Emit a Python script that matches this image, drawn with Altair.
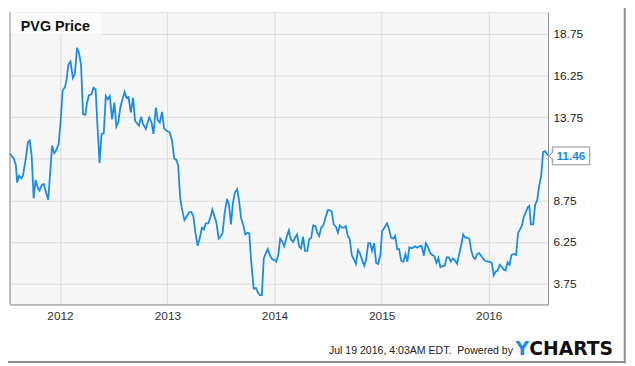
import altair as alt
import pandas as pd

# Decimal-year time stamps and PVG closing prices
years = [
    2011.533, 2011.570, 2011.588, 2011.600, 2011.618, 2011.641, 2011.655, 2011.680,
    2011.701, 2011.717, 2011.735, 2011.754, 2011.772, 2011.794, 2011.809, 2011.830,
    2011.849, 2011.871, 2011.889, 2011.908, 2011.926, 2011.945, 2011.963, 2011.987,
    2012.006, 2012.024, 2012.046, 2012.061, 2012.077, 2012.098, 2012.120, 2012.138,
    2012.159, 2012.178, 2012.196, 2012.215, 2012.236, 2012.252, 2012.270, 2012.291,
    2012.313, 2012.332, 2012.350, 2012.369, 2012.387, 2012.408, 2012.427, 2012.445,
    2012.464, 2012.485, 2012.507, 2012.525, 2012.544, 2012.562, 2012.583, 2012.602,
    2012.620, 2012.639, 2012.660, 2012.682, 2012.700, 2012.719, 2012.737, 2012.756,
    2012.774, 2012.800, 2012.832, 2012.854, 2012.872, 2012.894, 2012.912, 2012.931,
    2012.952, 2012.971, 2012.992,
    2013.023, 2013.044, 2013.066, 2013.084, 2013.102, 2013.121, 2013.139, 2013.161,
    2013.183, 2013.207, 2013.226, 2013.244, 2013.263, 2013.284, 2013.305, 2013.324,
    2013.342, 2013.360, 2013.383, 2013.401, 2013.422, 2013.441, 2013.459, 2013.480,
    2013.499, 2013.517, 2013.536, 2013.558, 2013.576, 2013.595, 2013.613, 2013.631,
    2013.653, 2013.671, 2013.689, 2013.708, 2013.729, 2013.748, 2013.766, 2013.784,
    2013.807, 2013.828, 2013.846, 2013.865, 2013.883, 2013.901, 2013.920, 2013.938,
    2013.960, 2013.982,
    2014.000, 2014.018, 2014.037, 2014.054, 2014.070, 2014.092, 2014.113, 2014.135,
    2014.153, 2014.175, 2014.194, 2014.212, 2014.231, 2014.249, 2014.267, 2014.286,
    2014.307, 2014.325, 2014.344, 2014.362, 2014.381, 2014.399, 2014.418, 2014.436,
    2014.457, 2014.476, 2014.498, 2014.516, 2014.535, 2014.553, 2014.574, 2014.593,
    2014.611, 2014.630, 2014.648, 2014.666, 2014.685, 2014.703, 2014.722, 2014.740,
    2014.761, 2014.780, 2014.798, 2014.817, 2014.839, 2014.857, 2014.876, 2014.894,
    2014.912, 2014.931, 2014.949, 2014.968, 2014.989,
    2015.005, 2015.026, 2015.051, 2015.069, 2015.088, 2015.109, 2015.127, 2015.146,
    2015.164, 2015.183, 2015.204, 2015.222, 2015.241, 2015.259, 2015.281, 2015.312,
    2015.333, 2015.351, 2015.373, 2015.395, 2015.413, 2015.434, 2015.456, 2015.475,
    2015.493, 2015.512, 2015.530, 2015.549, 2015.570, 2015.588, 2015.609, 2015.628,
    2015.646, 2015.665, 2015.683, 2015.705, 2015.726, 2015.745, 2015.761, 2015.779,
    2015.797, 2015.819, 2015.837, 2015.856, 2015.874, 2015.892, 2015.911, 2015.929,
    2015.948, 2015.969, 2015.991,
    2016.009, 2016.028, 2016.046, 2016.065, 2016.083, 2016.102, 2016.120, 2016.138,
    2016.157, 2016.175, 2016.194, 2016.212, 2016.231, 2016.255, 2016.273, 2016.292,
    2016.310, 2016.328, 2016.347, 2016.365, 2016.378, 2016.393, 2016.415, 2016.433,
    2016.452, 2016.470, 2016.489, 2016.507, 2016.526, 2016.544, 2016.553,
]

prices = [
    11.56, 11.26, 10.86, 9.82, 10.23, 10.08, 10.27, 11.26,
    12.25, 12.35, 11.46, 8.89, 9.98, 9.48, 9.34, 9.68,
    9.74, 9.19, 8.79, 10.37, 12.05, 11.59, 11.75, 12.15,
    13.53, 15.35, 15.55, 16.00, 16.89, 17.09, 16.10, 16.34,
    17.92, 17.58, 16.89, 13.93, 13.89, 14.62, 15.07, 15.11,
    15.51, 15.41, 13.14, 11.00, 12.74, 12.78, 15.02, 14.82,
    15.02, 13.63, 14.62, 13.18, 13.43, 14.32, 14.82, 15.27,
    14.91, 14.96, 14.03, 14.91, 13.53, 13.37, 13.24, 13.77,
    13.34, 13.04, 13.73, 13.43, 12.74, 14.32, 13.57, 13.43,
    14.07, 13.08, 12.94,
    12.84, 12.35, 11.26, 11.20, 10.86, 8.89, 8.20, 7.56,
    7.80, 8.04, 8.04, 7.80, 6.81, 6.02, 6.52, 7.11,
    7.01, 7.37, 7.37, 7.70, 8.20, 7.80, 7.41, 6.46,
    6.58, 6.81, 8.00, 8.83, 8.49, 7.31, 8.59, 9.22,
    9.42, 8.69, 7.70, 7.31, 6.71, 6.81, 6.77, 5.04,
    3.45, 3.49, 3.22, 3.06, 3.06, 5.27, 5.57, 5.82,
    5.43, 5.19,
    5.19, 5.07, 5.50, 6.46, 6.32, 5.99, 6.52, 6.95,
    6.42, 6.26, 6.52, 6.71, 5.99, 5.87, 6.58, 5.72,
    5.72, 6.42, 6.52, 7.25, 7.21, 6.85, 6.62, 7.11,
    7.25, 7.70, 8.16, 8.16, 8.10, 7.31, 7.17, 6.81,
    7.25, 7.11, 7.11, 7.21, 6.62, 6.42, 5.47, 5.23,
    4.94, 5.78, 5.59, 5.19, 4.83, 5.23, 6.18, 6.18,
    5.72, 6.18, 5.00, 4.94, 5.47,
    6.91, 7.11, 7.37, 7.05, 6.52, 6.46, 6.62, 5.82,
    5.82, 5.13, 5.07, 5.53, 5.07, 5.93, 5.87, 5.99,
    5.91, 5.99, 6.02, 5.43, 6.18, 5.93, 5.57, 5.47,
    5.39, 5.00, 5.29, 4.74, 4.80, 4.83, 5.33, 5.33,
    5.07, 5.27, 5.17, 4.94, 5.59, 6.12, 6.71, 6.52,
    6.52, 6.46, 5.72, 5.33, 5.23, 5.53, 5.59, 5.43,
    5.23, 5.11, 5.07,
    5.07, 5.00, 4.24, 4.48, 4.54, 4.88, 4.78, 4.60,
    4.54, 5.04, 4.88, 5.47, 5.53, 5.47, 6.77, 7.01,
    7.25, 7.80, 8.04, 8.36, 8.43, 7.31, 7.31, 8.49,
    8.75, 9.62, 10.21, 11.65, 11.71, 11.52, 11.46,
]

y_ticks = [3.75, 6.25, 8.75, 11.25, 13.75, 16.25, 18.75]
x_start, x_end = 2011.533, 2016.553
y_domain = [2.5, 20.05]
series_name = "PVG Price"
last_label = "11.46"
footer = "Jul 19 2016, 4:03AM EDT.\u00a0 Powered by"

BLUE = "#1a8ce8"
FRAME = "#8c8c8c"
GRID = "#dcdcdc"
FONT = "Liberation Sans"


def to_date(t):
    return pd.Timestamp("2012-01-01") + pd.to_timedelta((t - 2012) * 365.25, unit="D")


df = pd.DataFrame({"date": [to_date(t) for t in years], "price": prices})
last = df.tail(1).copy()
last["label"] = last_label
one = pd.DataFrame({"a": [0]})

W, H = 545, 296

x_enc = alt.X(
    "date:T",
    scale=alt.Scale(domain=[to_date(x_start).isoformat(), to_date(x_end).isoformat()]),
    axis=alt.Axis(
        title=None, format="%Y", tickCount={"interval": "year", "step": 1},
        grid=True, gridColor=GRID, ticks=False, labelPadding=6,
        labelFontSize=12, labelColor="#333333", labelFont=FONT,
        domainColor=FRAME, labelFlush=False,
    ),
)
y_enc = alt.Y(
    "price:Q",
    scale=alt.Scale(domain=y_domain, nice=False, zero=False),
    axis=alt.Axis(
        title=None, orient="right", values=y_ticks, grid=True, gridColor=GRID,
        ticks=False, labelPadding=5, labelFontSize=12, labelColor="#222222",
        labelFont=FONT, domainColor=FRAME,
        labelExpr="datum.value == 11.25 ? '' : format(datum.value, '.2f')",
    ),
)

line = alt.Chart(df).mark_line(color=BLUE, strokeWidth=1.8).encode(x=x_enc, y=y_enc)

legend_box = alt.Chart(one).mark_rect(fill="white", opacity=0.6).encode(
    x=alt.value(0), x2=alt.value(93), y=alt.value(0), y2=alt.value(23)
)
legend_text = alt.Chart(one).mark_text(
    text=series_name, font=FONT, fontSize=14.5, fontWeight="bold",
    align="left", baseline="alphabetic", color="#111111",
).encode(x=alt.value(11), y=alt.value(18.5))

val_box = alt.Chart(last).mark_rect(
    width=38, height=18, xOffset=23.3, yOffset=0.6,
    fill="white", stroke=FRAME, strokeWidth=1,
).encode(x="date:T", y="price:Q")
val_notch = alt.Chart(last).mark_point(
    shape="M 0.3 -1 L -0.8 0 L 0.3 1", size=81, filled=False,
    fill="white", fillOpacity=1, stroke=FRAME, strokeWidth=1, opacity=1,
    xOffset=4.3, yOffset=0.6,
).encode(x="date:T", y="price:Q")
val_text = alt.Chart(last).mark_text(
    font=FONT, fontSize=12, fontWeight="bold", color=BLUE,
    align="left", baseline="middle", dx=8.5, dy=1,
).encode(x="date:T", y="price:Q", text="label:N")

left_frame = alt.Chart(one).mark_rule(color=FRAME, strokeWidth=1).encode(
    x=alt.value(0), y=alt.value(0), y2=alt.value(H)
)
border_right = alt.Chart(one).mark_rule(color=FRAME, strokeWidth=2).encode(
    x=alt.value(622.7), y=alt.value(-10), y2=alt.value(355.5)
)
border_bottom = alt.Chart(one).mark_rule(color=FRAME, strokeWidth=2).encode(
    x=alt.value(-10), x2=alt.value(623.7), y=alt.value(354.3)
)

footer_text = alt.Chart(one).mark_text(
    text=footer, font=FONT, fontSize=10.7, color="#222222",
    align="right", baseline="alphabetic",
).encode(x=alt.value(509.5), y=alt.value(346))
logo_y = alt.Chart(one).mark_text(
    text="Y", font="DejaVu Sans", fontSize=19, fontWeight="bold", color=BLUE,
    align="left", baseline="alphabetic",
).encode(x=alt.value(512), y=alt.value(346.7))
logo_rest = alt.Chart(one).mark_text(
    text="CHARTS", font="DejaVu Sans", fontSize=19, fontWeight="bold", color="#111111",
    align="left", baseline="alphabetic",
).encode(x=alt.value(526), y=alt.value(346.7))

chart = alt.layer(
    line, legend_box, legend_text, val_box, val_notch, val_text,
    left_frame, border_right, border_bottom, footer_text, logo_y, logo_rest,
).properties(
    width=W, height=H,
    padding={"left": 2, "top": 2, "right": 80, "bottom": 60},
    autosize="none", background="white",
).configure_view(fill="#f7f7f7", stroke=GRID)

chart.save("out.html", embed_options={"renderer": "svg", "actions": False})
